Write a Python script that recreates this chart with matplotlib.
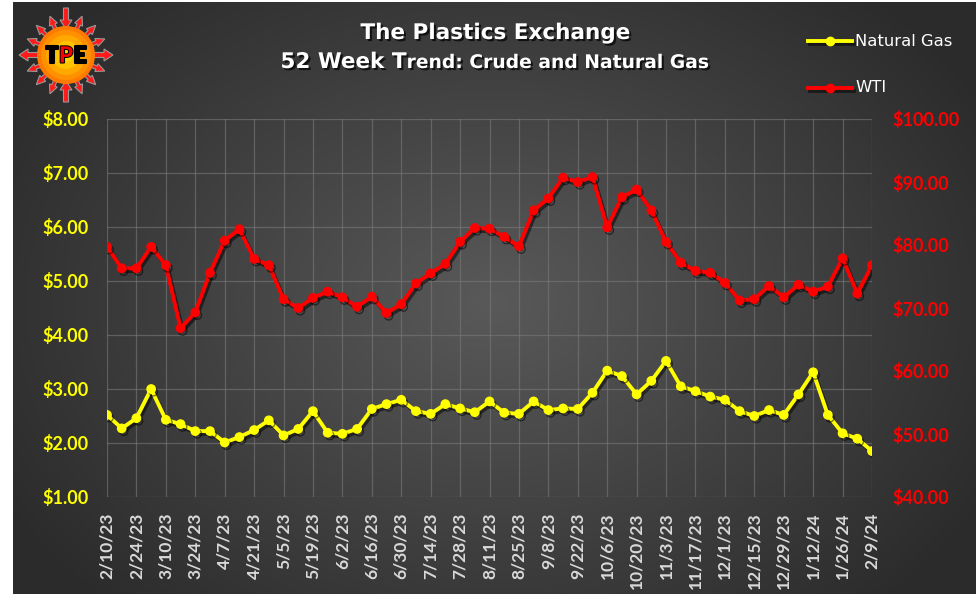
import numpy as np
import matplotlib
matplotlib.use("Agg")
import matplotlib.pyplot as plt
import matplotlib.patheffects as pe
from matplotlib.patches import Circle, FancyArrow

plt.rcParams['font.family'] = ['Lato', 'DejaVu Sans']

# Weekly dates (every other week is labelled)
dates = ['2/10/23', '2/17/23', '2/24/23', '3/3/23', '3/10/23', '3/17/23', '3/24/23', '3/31/23',
         '4/7/23', '4/14/23', '4/21/23', '4/28/23', '5/5/23', '5/12/23', '5/19/23', '5/26/23',
         '6/2/23', '6/9/23', '6/16/23', '6/23/23', '6/30/23', '7/7/23', '7/14/23', '7/21/23',
         '7/28/23', '8/4/23', '8/11/23', '8/18/23', '8/25/23', '9/1/23', '9/8/23', '9/15/23',
         '9/22/23', '9/29/23', '10/6/23', '10/13/23', '10/20/23', '10/27/23', '11/3/23', '11/10/23',
         '11/17/23', '11/24/23', '12/1/23', '12/8/23', '12/15/23', '12/22/23', '12/29/23', '1/5/24',
         '1/12/24', '1/19/24', '1/26/24', '2/2/24', '2/9/24']

# Natural gas ($/MMBtu) - left axis
gas = [2.52, 2.27, 2.46, 3.00, 2.43, 2.35, 2.22, 2.22, 2.01, 2.11,
       2.24, 2.42, 2.14, 2.26, 2.59, 2.19, 2.17, 2.26, 2.63, 2.72,
       2.80, 2.59, 2.54, 2.72, 2.64, 2.57, 2.77, 2.56, 2.54, 2.77,
       2.61, 2.64, 2.63, 2.93, 3.34, 3.24, 2.90, 3.15, 3.52, 3.05,
       2.96, 2.86, 2.80, 2.59, 2.50, 2.61, 2.52, 2.90, 3.31, 2.52,
       2.18, 2.08, 1.85]

# WTI crude ($/bbl) - right axis
wti = [79.7, 76.3, 76.3, 79.7, 76.8, 66.8, 69.3, 75.6, 80.7, 82.5,
       77.8, 76.8, 71.4, 70.0, 71.6, 72.6, 71.7, 70.2, 71.8, 69.2,
       70.6, 73.9, 75.5, 77.0, 80.5, 82.7, 82.6, 81.3, 79.8, 85.5,
       87.4, 90.7, 90.0, 90.8, 82.8, 87.6, 88.8, 85.5, 80.5, 77.2,
       75.9, 75.6, 74.0, 71.2, 71.4, 73.5, 71.7, 73.7, 72.6, 73.4,
       77.9, 72.3, 76.8]

gas_ticks = [1, 2, 3, 4, 5, 6, 7, 8]
wti_ticks = [40, 50, 60, 70, 80, 90, 100]

W, H = 976, 594
fig = plt.figure(figsize=(W / 100, H / 100), dpi=100)
fig.patch.set_facecolor('white')

# dark radial background
bg = fig.add_axes([13 / W, 0, 1 - 13 / W, 1 - 2 / H])
yy, xx = np.mgrid[0:592, 0:963]
r = np.sqrt(((xx - 480) / 560.0) ** 2 + ((yy - 300) / 420.0) ** 2)
r = np.clip(r, 0, 1)
shade = 0.35 - 0.18 * r
bg.imshow(np.dstack([shade, shade, shade]), aspect='auto', interpolation='bilinear')
bg.axis('off')

# main axes
x0, x1, y0, y1 = 107, 872, 119, 497
ax = fig.add_axes([x0 / W, 1 - y1 / H, (x1 - x0) / W, (y1 - y0) / H])
ax.patch.set_alpha(0)
ax2 = ax.twinx()
ax2.patch.set_alpha(0)

x = np.arange(len(dates))
shadow = [pe.SimpleLineShadow(offset=(1.5, -2), shadow_color='black', alpha=0.5), pe.Normal()]

ax.plot(x, gas, color='#FFFF00', lw=2.8, marker='o', ms=6, zorder=3,
        path_effects=shadow, label='Natural Gas')
ax2.plot(x, wti, color='#FF0000', lw=2.8, marker='o', ms=6, zorder=3,
         path_effects=shadow, label='WTI')

ax.set_xlim(0, len(dates) - 1)
ax.set_ylim(1, 8)
ax2.set_ylim(40, 100)
ax.set_xticks(x[::2])
ax.set_xticklabels(dates[::2], rotation=90, color='#d9d9d9', fontsize=12.5, fontweight='bold')
ax.set_yticks(gas_ticks)
ax.set_yticklabels([f'${v:.2f}' for v in gas_ticks], color='#FFFF00', fontsize=13, fontweight='bold')
ax2.set_yticks(wti_ticks)
ax2.set_yticklabels([f'${v:.2f}' for v in wti_ticks], color='#FF0000', fontsize=13, fontweight='bold')
ax.tick_params(axis='x', length=0, pad=11)
ax.tick_params(axis='y', length=0, pad=13)
ax2.tick_params(axis='y', length=0, pad=15)
ax.grid(True, color='#7a7a7a', lw=0.9, alpha=0.6)
for a in (ax, ax2):
    for s in a.spines.values():
        s.set_visible(False)
ax.set_zorder(2)
ax2.set_zorder(3)

# titles
tshadow = [pe.withSimplePatchShadow(offset=(1.5, -1.5), shadow_rgbFace='black', alpha=0.7)]
fig.text(495 / W, 1 - 33 / H, 'The Plastics Exchange', color='white', fontsize=15.5, fontweight='bold',
         family='DejaVu Sans', ha='center', va='center', path_effects=tshadow)
t1 = fig.text(0.5, 1 - 68 / H, '52 Week T', color='white', fontsize=15.5, fontweight='bold',
              family='DejaVu Sans', ha='right', va='baseline', path_effects=tshadow)
t2 = fig.text(0.5, 1 - 68 / H, 'rend: Crude and Natural Gas', color='white', fontsize=13.5,
              family='DejaVu Sans', fontweight='bold', ha='left', va='baseline', path_effects=tshadow)
rend = fig.canvas.get_renderer()
wa = t1.get_window_extent(rend).width
wb = t2.get_window_extent(rend).width
split = 495 - (wa + wb) / 2 + wa
t1.set_x(split / W)
t2.set_x(split / W)

# legend
leg = fig.add_axes([0, 0, 1, 1])
leg.set_xlim(0, W)
leg.set_ylim(H, 0)
leg.axis('off')
for ly, c, name in [(41, '#FFFF00', 'Natural Gas'), (88, '#FF0000', 'WTI')]:
    leg.plot([808, 852], [ly, ly], color=c, lw=2.8, path_effects=shadow)
    leg.plot([830], [ly], 'o', color=c, ms=6)
    leg.text(855, ly, name, color='white', fontsize=11.8, family='DejaVu Sans', va='center', ha='left')

# TPE logo
cx, cy = 66, 55
for ang in np.arange(0, 360, 22.5):
    a = np.deg2rad(ang)
    big = ang % 90 == 0
    length = 47 if big else 42
    w = 5 if big else 3.5
    if ang in (90, 270):
        sx, sy = cx + length * np.cos(a), cy - length * np.sin(a)
        dx, dy = -(length - 26) * np.cos(a), (length - 26) * np.sin(a)
    else:
        sx, sy = cx + 24 * np.cos(a), cy - 24 * np.sin(a)
        dx, dy = (length - 24) * np.cos(a), -(length - 24) * np.sin(a)
    leg.add_patch(FancyArrow(sx, sy, dx, dy, width=w, head_width=w * 2.4, head_length=9,
                             length_includes_head=True, fc='#FF1a1a', ec='#999999', lw=0.8))
for rad, col in [(29, '#ff7a00'), (25, '#ff9000'), (20, '#ffa800'), (14, '#ffc400'), (7, '#ffd800')]:
    leg.add_patch(Circle((cx, cy), rad, fc=col, ec='none'))
outline = [pe.withStroke(linewidth=1.5, foreground='black')]
for dx, ch, col in [(-14, 'T', 'black'), (0, 'P', '#FF0000'), (14, 'E', 'black')]:
    leg.text(cx + dx, cy + 1, ch, color=col, fontsize=16, fontweight='black', ha='center', va='center',
             path_effects=outline)

fig.savefig('out.png', dpi=100)
